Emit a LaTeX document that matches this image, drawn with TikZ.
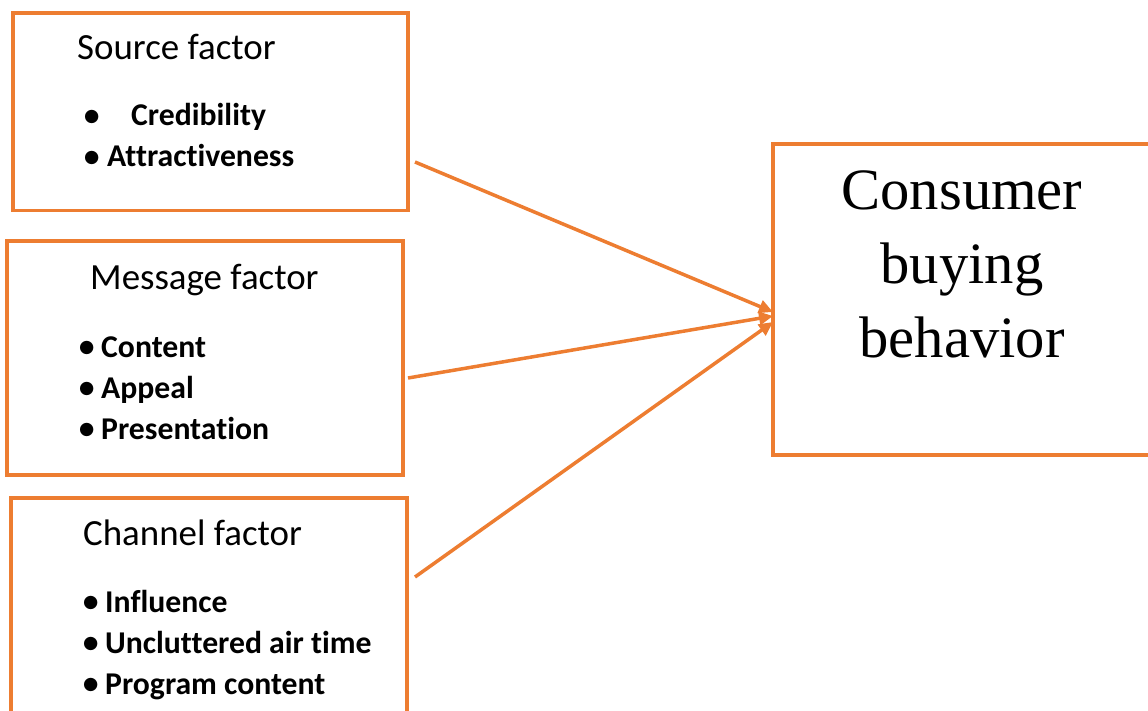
\documentclass[tikz,border=0pt]{standalone}
\usepackage{fontspec}
\setmainfont{Carlito}[Ligatures=NoCommon]
\newfontfamily\tnr{Liberation Serif}
\newfontfamily\dvs{DejaVu Sans}
\usetikzlibrary{arrows.meta}
\definecolor{offorange}{HTML}{ED7D31}
\newcommand{\bul}{\raisebox{4.5pt}{\dvs\fontsize{17.5}{17.5}\selectfont ●}}
\begin{document}
\begin{tikzpicture}[x=1pt,y=-1pt,
  box/.style={draw=offorange, line width=3.8pt, rectangle, inner sep=0pt},
  ttl/.style={anchor=base west, inner sep=0pt, font=\fontsize{36.9}{44}\selectfont},
  itm/.style={anchor=base west, inner sep=0pt, font=\bfseries\fontsize{31.7}{38}\selectfont},
  big/.style={anchor=base, inner sep=0pt, font=\tnr\fontsize{58.6}{73}\selectfont},
  conn/.style={draw=offorange, line width=3.5pt, -{Triangle[length=14pt,width=13pt]}}]
\useasboundingbox (0,0) rectangle (1148,711);
\clip (0,0) rectangle (1148,711);
% boxes
\node[box, minimum width=395pt, minimum height=197.5pt] (src) at (210.5,111.75) {};
\node[box, minimum width=396pt, minimum height=234pt] (msg) at (205,358) {};
\node[box, minimum width=396pt, minimum height=240pt] (chn) at (209,618) {};
\node[box, minimum width=400pt, minimum height=311pt] (cbb) at (973,299.5) {};
% source
\node[ttl] (srct) at (77,60) {Source factor};
\node[itm] (src1) at (84,126) {\makebox[47pt][l]{\bul}Credibility};
\node[itm] (src2) at (84,167) {\makebox[23pt][l]{\bul}Attractiveness};
% message
\node[ttl] (msgt) at (90,290) {Message factor};
\node[itm] (msg1) at (79,357) {\makebox[22pt][l]{\bul}Content};
\node[itm] (msg2) at (79,398) {\makebox[22pt][l]{\bul}Appeal};
\node[itm] (msg3) at (79,439) {\makebox[22pt][l]{\bul}Presentation};
% channel
\node[ttl] (chnt) at (83,545) {Channel factor};
\node[itm] (chn1) at (83,612) {\makebox[22pt][l]{\bul}Influence};
\node[itm] (chn2) at (83,653) {\makebox[22pt][l]{\bul}Uncluttered air time};
\node[itm] (chn3) at (83,694) {\makebox[22pt][l]{\bul}Program content};
% consumer
\node[big] (cb1) at (962,210) {Consumer};
\node[big] (cb2) at (962,283.5) {buying};
\node[big] (cb3) at (962,357) {behavior};
% connectors
\coordinate (s1) at (415,162);
\coordinate (m1) at (408,378);
\coordinate (c1) at (415,577);
\coordinate (t1) at (773,312);
\coordinate (t2) at (773,316);
\coordinate (t3) at (773,322);
\draw[conn] (s1) -- (t1);
\draw[conn] (m1) -- (t2);
\draw[conn] (c1) -- (t3);
\end{tikzpicture}
\end{document}
